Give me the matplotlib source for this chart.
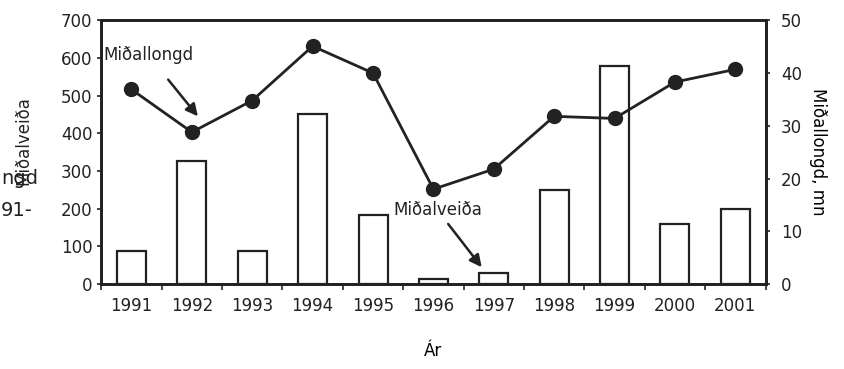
import numpy as np
import matplotlib.pyplot as plt

plt.rcParams['font.family'] = ['DejaVu Sans']
plt.rcParams['text.color'] = '#222222'
plt.rcParams['xtick.color'] = '#222222'
plt.rcParams['ytick.color'] = '#222222'

years = ['1991', '1992', '1993', '1994', '1995', '1996', '1997', '1998', '1999', '2000', '2001']
midalveida = [87, 326, 87, 451, 183, 14, 30, 249, 578, 159, 199]
midallongd = [36.9, 28.8, 34.8, 45.1, 40.0, 18.0, 21.8, 31.8, 31.4, 38.3, 40.7]

x = np.arange(len(years)) + 0.5

fig = plt.figure(figsize=(8.44, 3.69), dpi=100)
ax = fig.add_axes([0.12, 0.23, 0.787, 0.715])

ax.bar(x, midalveida, width=0.48, facecolor='white', edgecolor='#222222', linewidth=1.6, zorder=2)
ax.set_xlim(0, len(years))
ax.set_ylim(0, 700)
ax.set_yticks(range(0, 701, 100))
ax.set_xticks(x)
ax.set_xticklabels(years)
ax.set_xticks(np.arange(len(years) + 1), minor=True)
ax.tick_params(axis='x', which='major', length=0, pad=9, labelsize=12)
ax.tick_params(axis='x', which='minor', length=4, width=1.2, direction='out')
ax.tick_params(axis='y', length=3, width=1.2, labelsize=12)
ax.set_xlabel('Ár', fontsize=12, labelpad=20)
for s in ax.spines.values():
    s.set_linewidth(2)
    s.set_color('#222222')

ax2 = ax.twinx()
ax2.plot(x, midallongd, color='#222222', linewidth=2, marker='o', markersize=10, zorder=3)
ax2.set_ylim(0, 50)
ax2.set_yticks(range(0, 51, 10))
ax2.tick_params(axis='y', length=3, width=1.2, labelsize=12, pad=8)
ax2.set_ylabel('Miðallongd, mn', fontsize=12, rotation=-90, labelpad=18)
for s in ax2.spines.values():
    s.set_linewidth(2)
    s.set_color('#222222')

ax2.annotate('Miðallongd', xy=(1.6, 31.8), xytext=(0.03, 42.5), fontsize=12,
             arrowprops=dict(arrowstyle='-|>', color='#222222', lw=1.8, mutation_scale=18,
                             shrinkA=12, shrinkB=0))
ax2.annotate('Miðalveiða', xy=(6.3, 3.2), xytext=(4.83, 13.1), fontsize=12,
             arrowprops=dict(arrowstyle='-|>', color='#222222', lw=1.8, mutation_scale=18,
                             shrinkA=2, shrinkB=0))

fig.text(0.028, 0.62, 'Miðalveiða', rotation=90, fontsize=12, ha='center', va='center')
fig.text(0.001, 0.515, 'ngd', fontsize=14, ha='left', va='center')
fig.text(0.001, 0.43, '91-', fontsize=14, ha='left', va='center')

fig.savefig('out.png', dpi=100)
